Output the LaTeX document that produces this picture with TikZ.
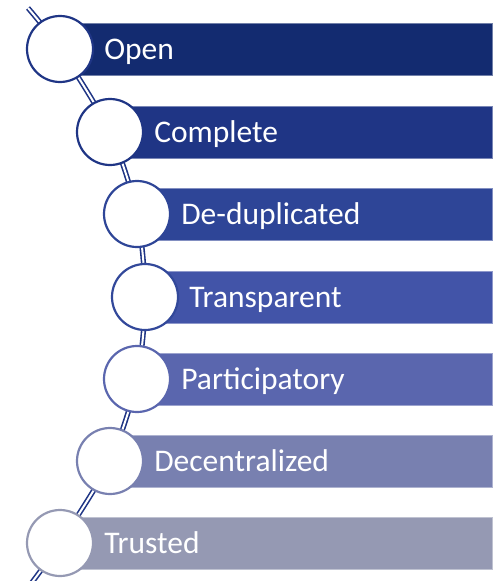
\documentclass[tikz,border=0pt]{standalone}
\usepackage{fontspec}
\setmainfont{Carlito}
\usetikzlibrary{positioning}
\definecolor{barA}{HTML}{132B70}
\definecolor{barB}{HTML}{1F3585}
\definecolor{barC}{HTML}{2E4597}
\definecolor{barD}{HTML}{4254A8}
\definecolor{barE}{HTML}{5A66AE}
\definecolor{barF}{HTML}{7880B0}
\definecolor{barG}{HTML}{9599B3}
\tikzset{
  dot/.style={circle, draw=#1, fill=white, line width=2.2pt, minimum size=66pt, inner sep=0pt},
  bar/.style={fill=#1, draw=#1!60!white, line width=0.6pt},
  lbl/.style={text=white, inner xsep=0pt, text height=20pt, text depth=0pt, font=\fontsize{31.5}{37}\selectfont},
  spine/.style={draw=barB, line width=1.6pt, double=white, double distance=2pt}
}
\begin{document}
\begin{tikzpicture}[x=1pt, y=-1pt]
        \useasboundingbox (0,0) rectangle (502,581);
        % bars
        \path[bar=barA] (60,23) rectangle (492,75);
        \path[bar=barB] (110,106) rectangle (492,158);
        \path[bar=barC] (137,188) rectangle (492,240);
        \path[bar=barD] (145,271) rectangle (492,323);
        \path[bar=barE] (137,353) rectangle (492,405);
        \path[bar=barF] (110,435) rectangle (492,487);
        \path[bar=barG] (60,517) rectangle (492,569);

        \coordinate (top) at (28,8);
        \coordinate (bottom) at (30,585);
        \coordinate (open) at (60,49);
        \coordinate (complete) at (110,132);
        \coordinate (dedup) at (137,214);
        \coordinate (transp) at (145,297);
        \coordinate (partic) at (137,379);
        \coordinate (decent) at (110,461);
        \coordinate (trusted) at (60,543);

        \draw[spine] plot[smooth] coordinates {(top) (open) (complete) (dedup) (transp) (partic) (decent) (trusted) (bottom)};

        \node[dot=barB] (c1) at (open) {};
        \node[dot=barB] (c2) at (complete) {};
        \node[dot=barC] (c3) at (dedup) {};
        \node[dot=barC!80!barD] (c4) at (transp) {};
        \node[dot=barE] (c5) at (partic) {};
        \node[dot=barF] (c6) at (decent) {};
        \node[dot=barG] (c7) at (trusted) {};

        \node[lbl, right=10pt of c1] (l1) {Open};
        \node[lbl, right=10pt of c2] (l2) {Complete};
        \node[lbl, right=10pt of c3] (l3) {De-duplicated};
        \node[lbl, right=10pt of c4] (l4) {Transparent};
        \node[lbl, right=10pt of c5] (l5) {Participatory};
        \node[lbl, right=10pt of c6] (l6) {Decentralized};
        \node[lbl, right=10pt of c7] (l7) {Trusted};
\end{tikzpicture}
\end{document}
